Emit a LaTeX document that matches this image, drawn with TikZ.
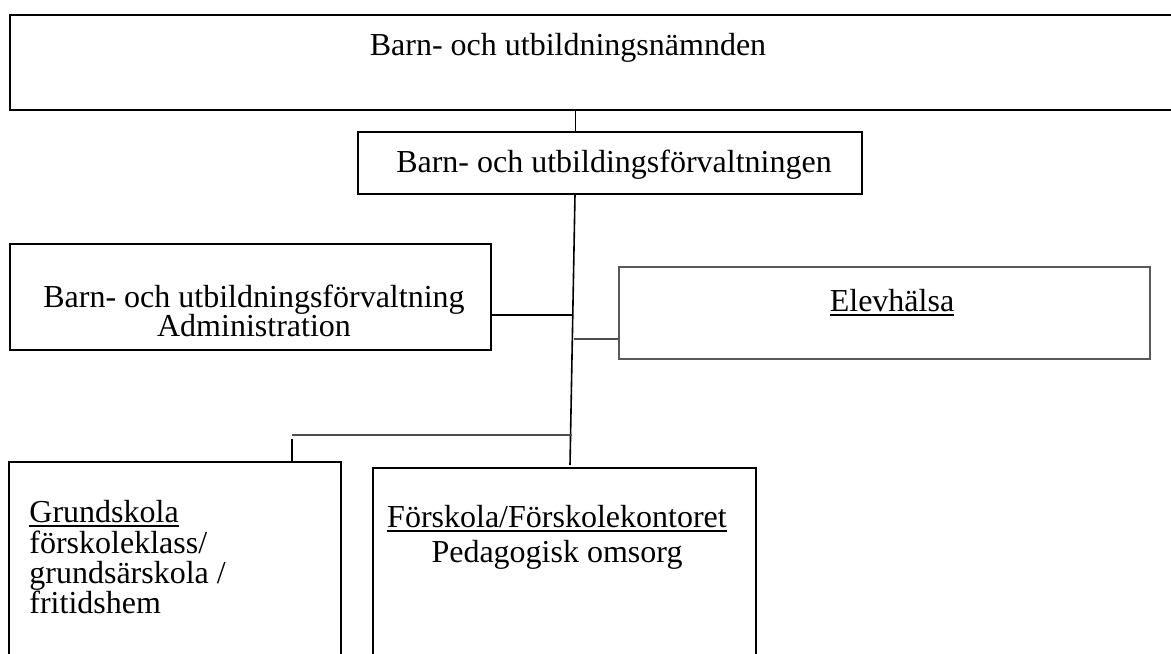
\documentclass[tikz,border=0pt]{standalone}
\usepackage{fontspec}
\setmainfont{Liberation Serif}
\usepackage{tikz}
\usetikzlibrary{positioning}
\newcommand{\pxu}{0.5pt}
\newcommand{\thickul}[1]{\setbox0\hbox{#1}\rlap{\rule[-2.6pt]{\wd0}{1pt}}\box0}
\tikzset{unit/.style={draw=black, rectangle, line width=1pt, inner sep=0pt},
	lbl/.style={inner sep=0pt, anchor=base},
	lblw/.style={inner sep=0pt, anchor=base west},
	link/.style={draw=black, line width=1pt},
	faint/.style={draw=gray!60!black, line width=0.6pt}}

\begin{document}
\begin{tikzpicture}[x=0.5pt, y=-0.5pt, font=\fontsize{16}{15}\selectfont]
		\useasboundingbox (0,0) rectangle (1171,653);
		\node[unit, minimum width=1175*\pxu, minimum height=95*\pxu] (naemnd) at (597.5,62.5) {};
		\node[unit, minimum width=504*\pxu, minimum height=62*\pxu] (forv) at (610,163) {};
		\node[unit, minimum width=481*\pxu, minimum height=106*\pxu] (admin) at (250.5,297) {};
		\node[unit, draw=gray!70!black, line width=0.6pt, minimum width=531*\pxu, minimum height=92*\pxu] (elev) at (884.5,313) {};
		\node[unit, minimum width=332*\pxu, minimum height=220*\pxu] (grund) at (175,572) {};
		\node[unit, line width=1.4pt, minimum width=383*\pxu, minimum height=214*\pxu] (forsk) at (564.5,575) {};
		
		\node[lbl] (naemnd-t) at (568,55) {Barn- och utbildningsnämnden};
		\node[lbl] (forv-t) at (614,172) {Barn- och utbildingsförvaltningen};
		\node[lbl] (admin-t1) at (254,307) {Barn- och utbildningsförvaltning};
		\node[lbl] (admin-t2) at (254,336) {Administration};
		\node[lbl] (elev-t) at (892,311) {\thickul{Elevhälsa}};
		\node[lblw] (grund-t1) at (29,522) {\thickul{Grundskola}};
		\node[lblw] (grund-t2) at (29,553) {förskoleklass/};
		\node[lblw] (grund-t3) at (29,583) {grundsärskola /};
		\node[lblw] (grund-t4) at (29,613) {fritidshem};
		\node[lbl] (forsk-t1) at (557,527) {\thickul{Förskola/Förskolekontoret}};
		\node[lbl] (forsk-t2) at (557,562) {Pedagogisk omsorg};
		
		\coordinate (spine) at (575,194);
		\coordinate (jadm) at (573,315);
		\coordinate (jelev) at (574,339);
		\coordinate (jgrund) at (571.5,435);
		\coordinate (gstub) at (292,435);
		\coordinate (hub) at (570,465);
		
		\draw[link, line width=0.5pt] (naemnd.south -| spine) -- (forv.north -| spine);
		\draw[link, line width=0.8pt] (spine) -- (hub);
		\draw[link] (admin.east |- jadm) -- (jadm);
		\draw[faint, line width=0.8pt] (jelev) -- (jelev -| elev.west);
		\draw[faint] (jgrund) -- (gstub);
		\draw[link] ([yshift=-4*\pxu]gstub) -- (gstub |- grund.north);
	\end{tikzpicture}
\end{document}
